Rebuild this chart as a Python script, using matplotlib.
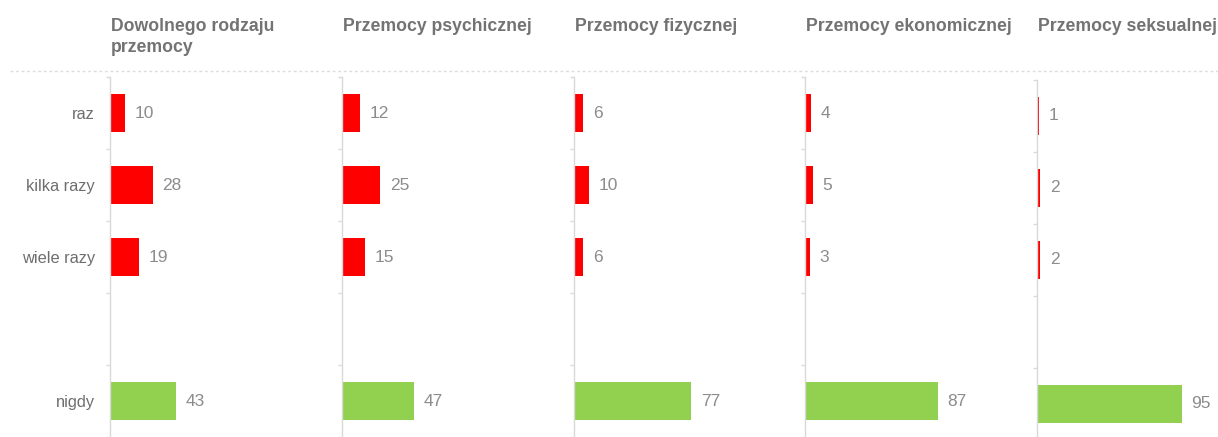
import numpy as np
import matplotlib
matplotlib.use("Agg")
import matplotlib.pyplot as plt
from matplotlib.lines import Line2D

# data
titles = ["Dowolnego rodzaju\nprzemocy", "Przemocy psychicznej", "Przemocy fizycznej",
          "Przemocy ekonomicznej", "Przemocy seksualnej"]
categories = ["raz", "kilka razy", "wiele razy", "", "nigdy"]
dowolnej = [10, 28, 19, np.nan, 43]
psychicznej = [12, 25, 15, np.nan, 47]
fizycznej = [6, 10, 6, np.nan, 77]
ekonomicznej = [4, 5, 3, np.nan, 87]
seksualnej = [1, 2, 2, np.nan, 95]
series = [dowolnej, psychicznej, fizycznej, ekonomicznej, seksualnej]
bar_colors = ["#ff0000", "#ff0000", "#ff0000", "#ff0000", "#92d050"]

W, H = 1218, 437
fig = plt.figure(figsize=(W / 100, H / 100), dpi=100)
plt.rcParams['font.family'] = ['Liberation Sans', 'DejaVu Sans']

px_per_unit = 1.525
xmax = 140
lefts = [110, 342, 574, 805, 1037]   # axis x positions in px
shifts = [0, 0, 0, 0, 3]             # last panel sits a bit lower
top_px = 77

for i, (title, vals) in enumerate(zip(titles, series)):
    left = lefts[i]
    ax = fig.add_axes([left / W, -shifts[i] / H, xmax * px_per_unit / W, (H - top_px) / H])
    y = np.arange(len(categories))
    ax.barh(y, vals, height=0.52, color=bar_colors, edgecolor="none")
    for yy, v in zip(y, vals):
        if np.isnan(v):
            continue
        ax.annotate(f"{v:g}", (v, yy), xytext=(7, 0), textcoords="offset points",
                    va="center", ha="left", fontsize=12.5, color="#8c8c8c")
    ax.set_xlim(0, xmax)
    ax.set_ylim(len(categories) - 0.5, -0.5)
    for s in ["top", "right", "bottom"]:
        ax.spines[s].set_visible(False)
    ax.spines["left"].set_color("#d9d9d9")
    ax.spines["left"].set_linewidth(1)
    ax.set_xticks([])
    ax.set_yticks(y)
    if i == 0:
        ax.set_yticklabels(categories, fontsize=11.8, color="#6e6e6e")
    else:
        ax.set_yticklabels([])
    ax.tick_params(axis="y", which="major", length=0, pad=10.8)
    ax.set_yticks(np.arange(-0.5, len(categories) + 0.5, 1), minor=True)
    ax.tick_params(axis="y", which="minor", length=3, width=1, color="#d9d9d9")
    ax.patch.set_alpha(0)

    # title, one text per line so the first baseline stays fixed
    for k, line in enumerate(title.split("\n")):
        fig.text((left + 1) / W, 1 - (31 + 21.5 * k) / H, line, ha="left", va="baseline",
                 fontsize=12.7, fontweight="bold", color="#737373")

# dotted separator under the titles
fig.add_artist(Line2D([10 / W, 1], [1 - 71 / H, 1 - 71 / H], transform=fig.transFigure,
                      color="#dcdcdc", linewidth=1, linestyle=(0, (2, 2))))

fig.savefig("out.png", dpi=100)
